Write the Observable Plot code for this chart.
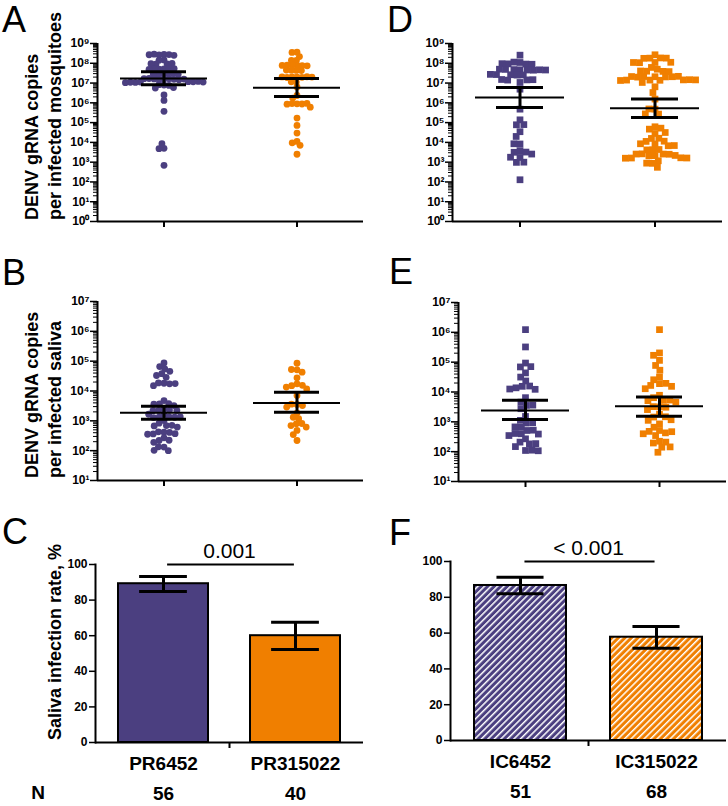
<!DOCTYPE html>
<html>
<head>
<meta charset="utf-8">
<script src="https://cdn.jsdelivr.net/npm/d3@7"></script>
<script src="https://cdn.jsdelivr.net/npm/@observablehq/plot@0.6"></script>
<style>
  body { margin: 0; background: #fff; }
  #fig { position: relative; width: 728px; height: 806px; overflow: hidden; background: #fff; }
  .panel { position: absolute; }
  .panel svg { display: block; max-width: none; overflow: visible; }
  #overlay { position: absolute; left: 0; top: 0; pointer-events: none; }
</style>
</head>
<body>
<div id="fig"></div>
<script>
// ---------------- data ----------------
const groupsPR = ["PR6452", "PR315022"];
const groupsIC = ["IC6452", "IC315022"];

// log10(DENV gRNA copies) per infected mosquito
const mosqPR6452 = [8.45, 8.42, 8.44, 8.40, 8.46, 8.43, 8.17, 8.15, 7.97, 7.99, 7.95, 7.98,
  7.72, 7.70, 7.74, 7.71, 7.73, 7.69, 7.47, 7.49, 7.45, 7.48, 7.46, 7.44,
  7.20, 7.22, 7.18, 7.21, 7.19, 7.23, 7.17, 7.20, 7.22, 7.05, 7.07, 7.03, 7.06, 7.04, 7.08, 7.02, 7.05,
  6.90, 6.92, 6.88, 6.75, 6.77, 6.40, 6.12, 5.57, 3.70, 3.68, 3.93, 2.84];
const mosqPR315022 = [8.56, 8.55, 8.34, 8.14, 8.15, 7.89, 7.90, 7.88, 7.91, 7.87, 7.89,
  7.64, 7.65, 7.63, 7.66, 7.30, 7.31, 7.29, 7.32, 7.28, 7.30, 7.31, 7.05, 7.06, 6.80, 6.37, 6.24,
  5.95, 5.96, 5.94, 5.97, 5.93, 5.78, 5.23, 4.86, 4.47, 4.05, 3.98, 3.85, 3.40];
const mosqIC6452 = [8.41, 8.04, 8.06, 7.96, 7.97, 7.95, 7.98, 7.67, 7.68, 7.66, 7.69, 7.65, 7.67, 7.70, 7.66,
  7.42, 7.43, 7.41, 7.44, 7.40, 7.16, 7.17, 7.15, 7.18, 7.03, 6.69, 5.68, 5.14, 4.89, 4.90, 4.54, 4.30,
  3.92, 3.93, 3.58, 3.50, 3.51, 3.41, 3.24, 3.25, 2.99, 3.00, 2.11];
const mosqIC315022 = [8.43, 8.26, 8.27, 8.25, 8.26, 8.04, 8.05, 8.03, 8.04, 7.79, 7.70, 7.59, 7.60, 7.58, 7.61,
  7.32, 7.33, 7.31, 7.32, 7.30, 7.34, 7.33, 7.15, 7.16, 7.14, 7.15, 7.17, 7.13, 7.16,
  7.03, 6.81, 6.52, 6.19, 5.68, 5.69, 5.43, 5.44, 4.79, 4.67, 4.72, 4.45, 4.50, 4.20, 4.21, 4.05, 4.06,
  3.92, 3.93, 3.83, 3.84, 3.63, 3.64, 3.62, 3.41, 3.42, 3.40, 3.41, 3.33, 3.34, 3.32, 3.21, 3.22, 3.20, 3.21,
  3.07, 2.94, 2.95, 2.74];

// log10(DENV gRNA copies) per infected saliva
const salPR6452 = [4.94, 4.82, 4.74, 4.66, 4.58, 4.52, 4.46, 4.26, 4.27, 4.24, 4.18, 4.25,
  3.68, 3.57, 3.58, 3.56, 3.51, 3.40, 3.35, 3.36, 3.34, 3.35, 3.21, 3.22,
  3.12, 3.13, 3.11, 3.12, 3.13, 3.01, 2.92, 2.84, 2.85, 2.83, 2.79,
  2.62, 2.63, 2.61, 2.56, 2.57, 2.55, 2.43, 2.34, 2.35, 2.28, 2.12, 2.13, 2.00, 2.01];
const salPR315022 = [4.93, 4.71, 4.72, 4.63, 4.44, 4.24, 4.18, 4.19, 4.07, 4.13, 3.85, 3.55, 3.56,
  3.51, 3.46, 3.26, 3.12, 3.07, 2.90, 2.91, 2.84, 2.79, 2.68, 2.54, 2.34];
const salIC6452 = [6.09, 5.51, 4.97, 4.84, 4.85, 4.64, 4.50, 4.37, 4.19, 4.20, 4.14, 4.09, 4.10, 3.81, 3.66,
  3.55, 3.56, 3.44, 3.18, 3.05, 2.96, 2.97, 2.82, 2.83, 2.71, 2.72, 2.60, 2.61, 2.59, 2.54, 2.43, 2.32,
  2.26, 2.27, 2.17, 2.04, 2.05, 2.03];
const salIC315022 = [6.09, 5.31, 5.23, 5.06, 4.89, 4.73, 4.50, 4.41, 4.28, 4.29, 4.22, 4.19, 4.11, 3.89,
  3.81, 3.72, 3.73, 3.71, 3.66, 3.50, 3.51, 3.49, 3.41, 3.25, 3.16, 3.17, 3.07, 3.05, 2.93, 2.82, 2.71,
  2.63, 2.68, 2.67, 2.54, 2.60, 2.35, 2.29, 2.32, 2.15, 2.16, 1.98];

// geometric means with SEM bounds (log10)
const meanA = [7.23, 6.76], loA = [6.91, 6.32], hiA = [7.57, 7.23];
const meanD = [6.27, 5.72], loD = [5.77, 5.26], hiD = [6.78, 6.19];
const meanB = [3.27, 3.60], loB = [3.05, 3.29], hiB = [3.49, 3.96];
const meanE = [3.38, 3.52], loE = [3.08, 3.19], hiE = [3.72, 3.83];

// saliva infection rate, %
const rateC = [89.2, 60.0], loC = [84.8, 52.3], hiC = [93.3, 67.6];
const rateF = [86.6, 57.7], loF = [82.0, 51.6], hiF = [91.2, 63.7];
const nPR = [56, 40];
const nIC = [51, 68];
const pPR = "0.001";
const pIC = "< 0.001";

// ---------------- styling ----------------
const purple = "#4b3f80";
const orange = "#f07f00";
const FONT = "'Liberation Sans', Arial, Helvetica, sans-serif";
const SUP = "⁰¹²³⁴⁵⁶⁷⁸⁹";
const fmtPow = d => "10" + SUP[Math.round(Math.log10(d))];

const fig = document.getElementById("fig");

function place(el, left, top, width) {
  const div = document.createElement("div");
  div.className = "panel";
  div.style.left = left + "px";
  div.style.top = top + "px";
  div.style.width = width + "px";
  div.appendChild(el);
  fig.appendChild(div);
  return el;
}

function logPanel(o) {
  const pts = o.groups.flatMap((g, i) => o.values[i].map(v => ({g, v: 10 ** v})));
  const sum = o.groups.map((g, i) => ({g, m: 10 ** o.mean[i], lo: 10 ** o.lo[i], hi: 10 ** o.hi[i]}));
  const ymin = 10 ** o.expMin, ymax = 10 ** o.expMax;
  const majors = d3.range(o.expMin, o.expMax + 1).map(e => 10 ** e);
  const minors = d3.range(o.expMin, o.expMax).flatMap(e => d3.range(2, 10).map(k => k * 10 ** e));
  const chart = Plot.plot({
    width: o.width, height: o.height,
    marginLeft: o.mL, marginRight: o.mR, marginTop: o.mT, marginBottom: o.mB,
    style: {fontFamily: FONT, background: "transparent", color: "black", overflow: "visible"},
    fx: {domain: o.groups, padding: 0, axis: null, label: null},
    x: {domain: [-1, 1], axis: null},
    y: {type: "log", domain: [ymin, ymax], label: null},
    color: {domain: o.groups, range: [purple, orange]},
    marks: [
      Plot.axisY({ticks: minors, tickSize: 4, tickFormat: () => "", strokeWidth: 1, label: null}),
      Plot.axisY({ticks: majors, tickSize: 7, tickPadding: 1, tickFormat: fmtPow, fontSize: 12,
        fontWeight: "bold", strokeWidth: 1.5, label: null}),
      Plot.ruleX(o.groups.slice(0, 1), {fx: d => d, x: -1, y1: ymin, y2: ymax, strokeWidth: 2}),
      Plot.ruleY([ymin], {strokeWidth: 2}),
      Plot.ruleX([0], {y1: ymin, y2: ymin, insetBottom: -6, strokeWidth: 2}),
      Plot.dot(pts, Plot.dodgeX({anchor: "middle", padding: o.pad},
        {fx: "g", y: "v", r: o.r, symbol: o.symbol, fill: "g"})),
      Plot.tickY(sum, {fx: "g", y: "m", insetLeft: 23, insetRight: 23, strokeWidth: 2}),
      Plot.tickY(sum, {fx: "g", y: "lo", insetLeft: 44, insetRight: 44, strokeWidth: 3}),
      Plot.tickY(sum, {fx: "g", y: "hi", insetLeft: 44, insetRight: 44, strokeWidth: 3}),
      Plot.ruleX(sum, {fx: "g", x: 0, y1: "lo", y2: "hi", strokeWidth: 3})
    ]
  });
  return place(chart, o.left, o.top, o.width);
}

function barPanel(o) {
  const rows = o.groups.map((g, i) => ({g, rate: o.rate[i], lo: o.lo[i], hi: o.hi[i], n: o.n[i]}));
  const pi = 0.32, po = 0.17;
  const xb = d3.scaleBand(o.groups, [o.mL, o.width - o.mR]).paddingInner(pi).paddingOuter(po);
  const bw = xb.bandwidth();
  const capInset = (bw - 48) / 2;
  const chart = Plot.plot({
    width: o.width, height: o.height,
    marginLeft: o.mL, marginRight: o.mR, marginTop: o.mT, marginBottom: o.mB,
    style: {fontFamily: FONT, background: "transparent", color: "black", overflow: "visible"},
    x: {domain: o.groups, paddingInner: pi, paddingOuter: po, axis: null},
    y: {domain: [0, 100], label: null},
    color: {domain: o.groups, range: o.fills},
    marks: [
      Plot.axisY({ticks: d3.range(0, 101, 20), tickSize: 6, tickPadding: 2, fontSize: 12,
        fontWeight: "bold", strokeWidth: 1.5, label: null}),
      Plot.barY(rows, {x: "g", y: "rate", fill: "g", stroke: "black", strokeWidth: 2}),
      Plot.ruleX(rows, {x: "g", y1: "lo", y2: "hi", strokeWidth: 3}),
      Plot.tickY(rows, {x: "g", y: "hi", insetLeft: capInset, insetRight: capInset, strokeWidth: 3}),
      Plot.tickY(rows, {x: "g", y: "lo", insetLeft: capInset, insetRight: capInset, strokeWidth: 3}),
      Plot.ruleY([0], {strokeWidth: 2}),
      Plot.frame({anchor: "left", strokeWidth: 2}),
      Plot.ruleX([0], {x: null, y1: 0, y2: 0, insetBottom: -6, strokeWidth: 2}),
      Plot.ruleY([100], {x1: () => o.groups[0], x2: () => o.groups[1],
        insetLeft: bw / 2 + 4, insetRight: bw / 2 + 1, strokeWidth: 2}),
      Plot.text([o.p], {frameAnchor: "top", lineAnchor: "middle", dy: -13, fontSize: 21}),
      Plot.axisX({tickSize: 0, tickPadding: 14, fontSize: 19, fontWeight: "bold", label: null}),
      Plot.axisX({tickSize: 0, tickPadding: 44, tickFormat: g => rows.find(r => r.g === g).n,
        fontSize: 19, fontWeight: "bold", label: null})
    ]
  });
  if (o.patterns) {
    const defs = d3.select(chart).insert("defs", ":first-child");
    o.patterns.forEach(({id, color}) => {
      const p = defs.append("pattern").attr("id", id).attr("patternUnits", "userSpaceOnUse")
        .attr("width", 4.6).attr("height", 4.6).attr("patternTransform", "rotate(45)");
      p.append("rect").attr("width", 4.6).attr("height", 4.6).attr("fill", color);
      p.append("rect").attr("width", 1.5).attr("height", 4.6).attr("fill", "white");
    });
  }
  return place(chart, o.left, o.top, o.width);
}

// Panel A
logPanel({groups: groupsPR, values: [mosqPR6452, mosqPR315022], mean: meanA, lo: loA, hi: hiA,
  symbol: "circle", r: 3.4, pad: -1.8, expMin: 0, expMax: 9,
  left: 0, top: 0, width: 364, height: 240, mL: 96, mR: 1, mT: 43, mB: 19});
// Panel D
logPanel({groups: groupsIC, values: [mosqIC6452, mosqIC315022], mean: meanD, lo: loD, hi: hiD,
  symbol: "square", r: 3.8, pad: -1.5, expMin: 0, expMax: 9,
  left: 364, top: 0, width: 364, height: 240, mL: 87, mR: 6, mT: 43, mB: 19});
// Panel B
logPanel({groups: groupsPR, values: [salPR6452, salPR315022], mean: meanB, lo: loB, hi: hiB,
  symbol: "circle", r: 3.4, pad: -1.2, expMin: 1, expMax: 7,
  left: 0, top: 250, width: 364, height: 250, mL: 96, mR: 1, mT: 51, mB: 20});
// Panel E
logPanel({groups: groupsIC, values: [salIC6452, salIC315022], mean: meanE, lo: loE, hi: hiE,
  symbol: "square", r: 3.8, pad: -1.2, expMin: 1, expMax: 7,
  left: 364, top: 250, width: 364, height: 250, mL: 93, mR: 2, mT: 52, mB: 19});
// Panel C
barPanel({groups: groupsPR, rate: rateC, lo: loC, hi: hiC, n: nPR, p: pPR, fills: [purple, orange],
  left: 0, top: 530, width: 364, height: 276, mL: 95, mR: 1, mT: 34, mB: 64});
// Panel F
barPanel({groups: groupsIC, rate: rateF, lo: loF, hi: hiF, n: nIC, p: pIC,
  fills: ["url(#stripePurple)", "url(#stripeOrange)"],
  patterns: [{id: "stripePurple", color: purple}, {id: "stripeOrange", color: orange}],
  left: 364, top: 530, width: 364, height: 276, mL: 86, mR: 2, mT: 31, mB: 66});

// ---------------- annotation overlay: panel letters, axis titles, N ----------------
const ov = d3.select(fig).append("svg").attr("id", "overlay")
  .attr("width", 728).attr("height", 806)
  .style("font-family", FONT);
const letters = [["A", 2, 32], ["B", 2, 285], ["C", 2, 544], ["D", 387, 32], ["E", 389, 284], ["F", 389, 545]];
ov.selectAll("text.letter").data(letters).join("text").attr("class", "letter")
  .attr("x", d => d[1]).attr("y", d => d[2]).attr("font-size", 36).text(d => d[0]);
const titles = [
  ["DENV gRNA copies", 38, 220], ["per infected mosquitoes", 61, 220],
  ["DENV gRNA copies", 38, 478], ["per infected saliva", 61, 478],
  ["Saliva infection rate, %", 61, 740]
];
ov.selectAll("text.title").data(titles).join("text").attr("class", "title")
  .attr("transform", d => `translate(${d[1]},${d[2]}) rotate(-90)`)
  .attr("font-size", 18).attr("font-weight", "bold").attr("text-anchor", "start").text(d => d[0]);
ov.append("text").attr("x", 38).attr("y", 799).attr("text-anchor", "middle")
  .attr("font-size", 19).attr("font-weight", "bold").text("N");
</script>
</body>
</html>
